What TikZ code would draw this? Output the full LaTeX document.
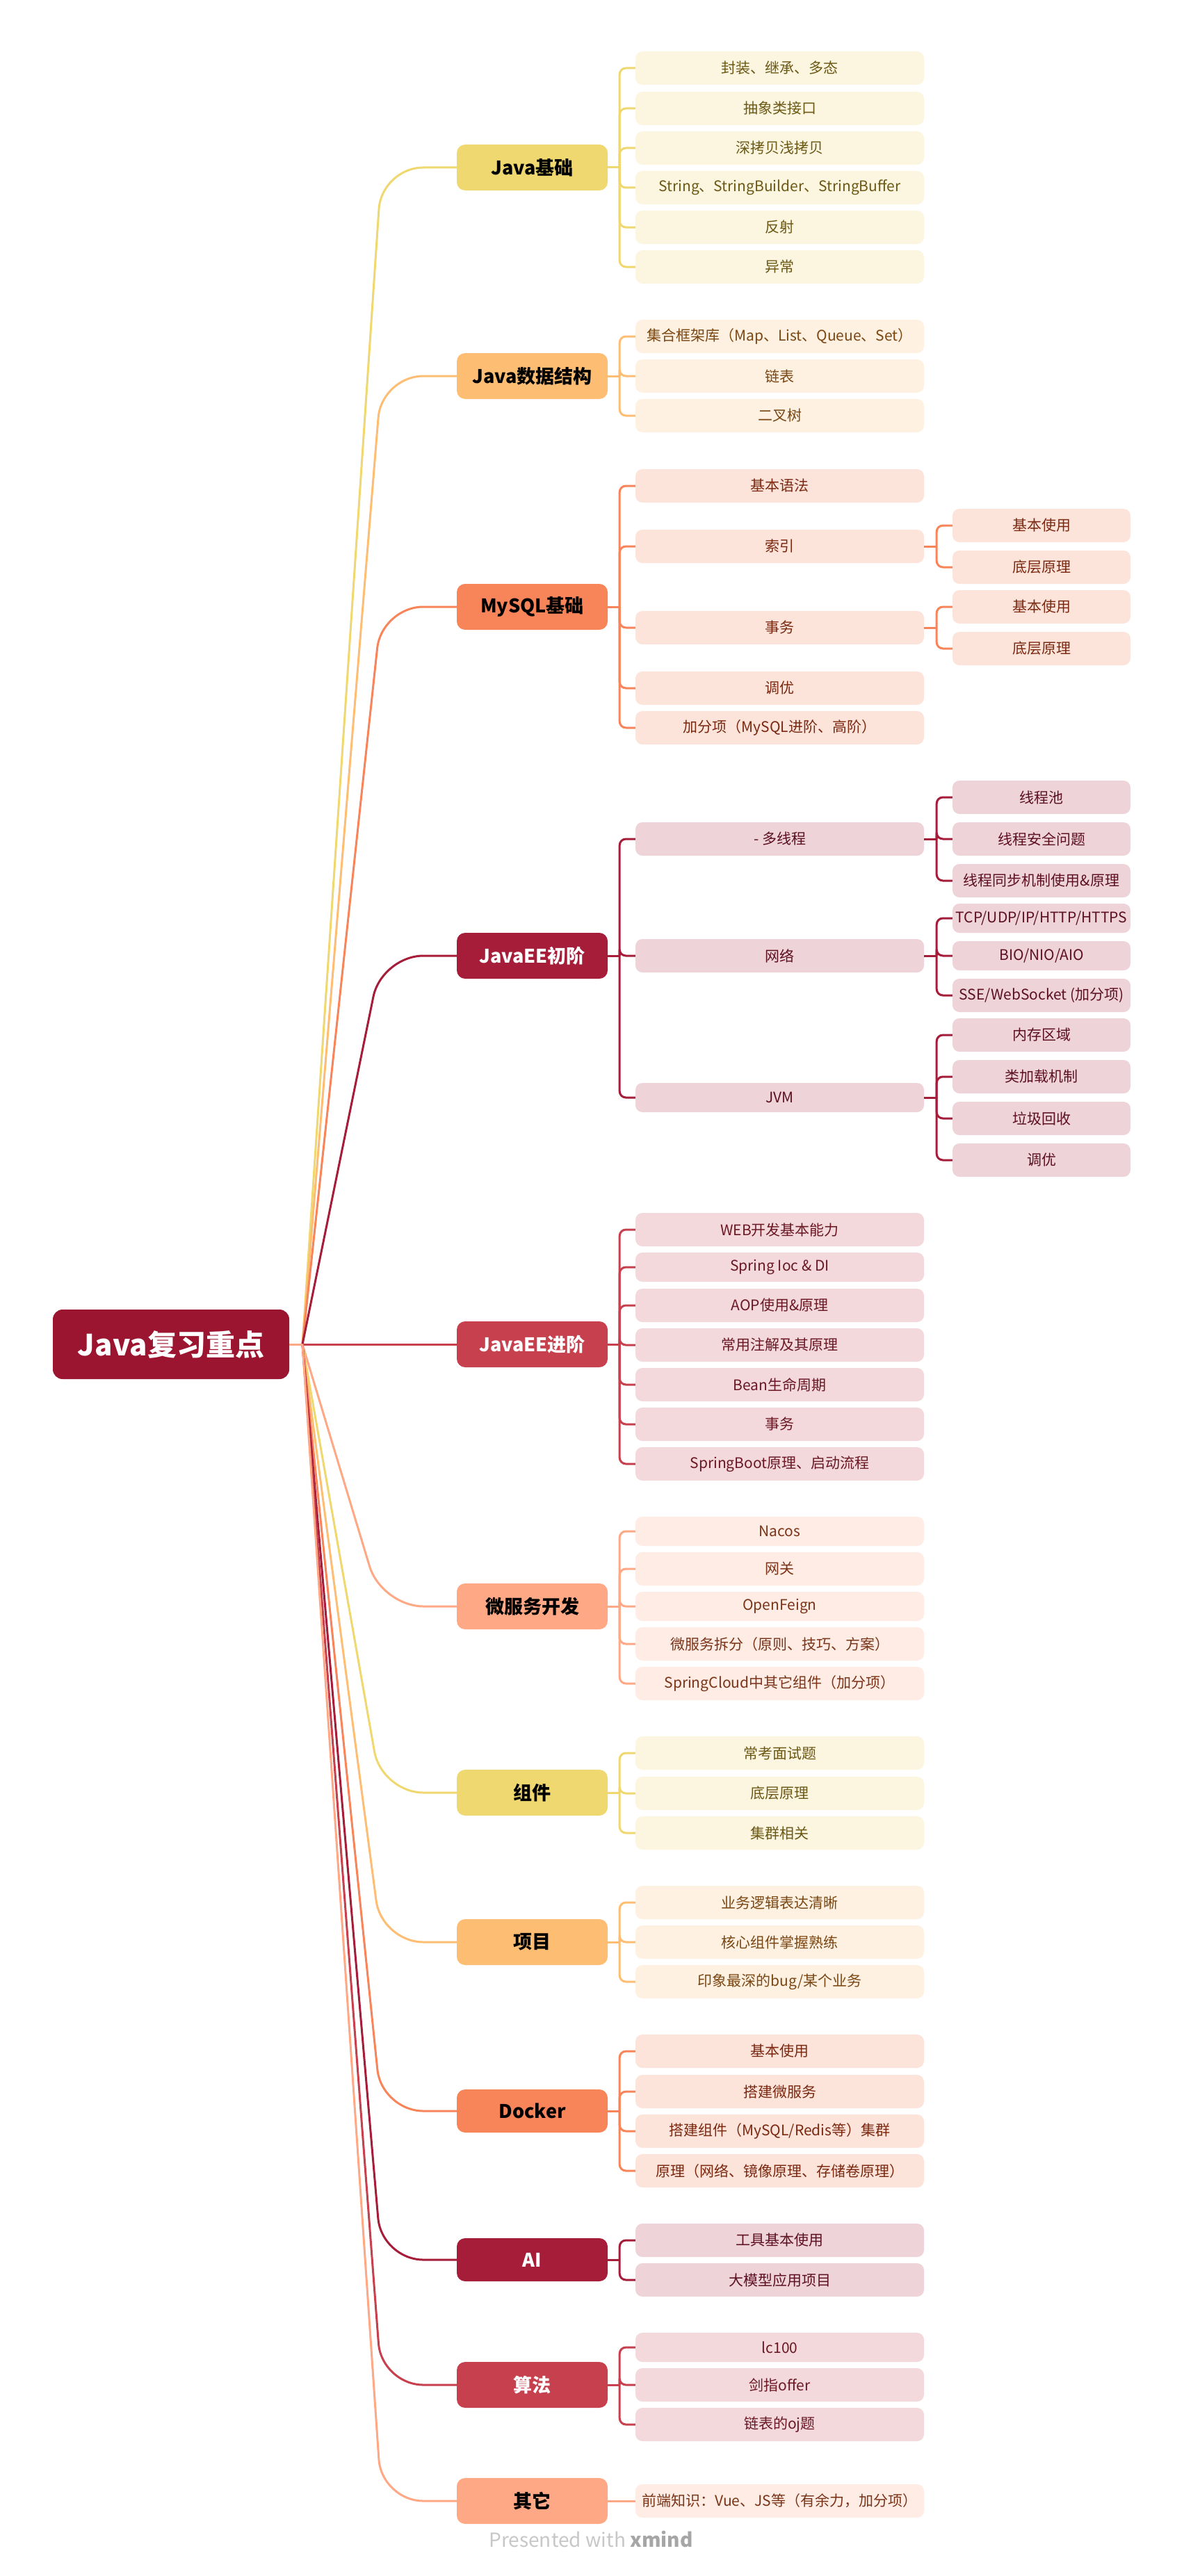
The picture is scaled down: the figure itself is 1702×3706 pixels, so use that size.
\documentclass[tikz,border=0pt]{standalone}
\usepackage{fontspec}
\setmainfont{Noto Sans CJK SC}
\definecolor{yM}{HTML}{F0D870}\definecolor{yC}{HTML}{FCF6E1}\definecolor{yT}{HTML}{6B5814}
\definecolor{oM}{HTML}{FDBE74}\definecolor{oC}{HTML}{FEF1E2}\definecolor{oT}{HTML}{7A4612}
\definecolor{cM}{HTML}{F8845A}\definecolor{cC}{HTML}{FDE4DB}\definecolor{cT}{HTML}{7A2810}
\definecolor{kM}{HTML}{A61D3A}\definecolor{kC}{HTML}{EED3D8}\definecolor{kT}{HTML}{5C1020}
\definecolor{rM}{HTML}{C6404E}\definecolor{rC}{HTML}{F3D9DC}\definecolor{rT}{HTML}{6A1824}
\definecolor{sM}{HTML}{FEA886}\definecolor{sC}{HTML}{FEECE5}\definecolor{sT}{HTML}{7A3418}
\definecolor{rootC}{HTML}{9B1430}
\tikzset{
  rootbox/.style={fill=rootC, text=white, rounded corners=14pt, minimum width=340pt, minimum height=100pt, inner sep=0pt, font=\fontsize{42}{48}\selectfont\bfseries},
  mainbox/.style={rounded corners=12pt, minimum width=217pt, minimum height=66pt, inner sep=0pt, font=\fontsize{27}{32}\selectfont\bfseries},
  subbox/.style={rounded corners=10pt, minimum width=415pt, minimum height=48pt, inner sep=0pt, font=\fontsize{21}{25}\selectfont},
  leafbox/.style={subbox, minimum width=256pt},
  latin/.style={minimum height=42pt},
  latinmain/.style={minimum height=62pt},
  conn/.style={line width=3pt},
  mainY/.style={mainbox, fill=yM, text=black}, subY/.style={fill=yC, text=yT},
  mainO/.style={mainbox, fill=oM, text=black}, subO/.style={fill=oC, text=oT},
  mainC/.style={mainbox, fill=cM, text=black}, subC/.style={fill=cC, text=cT},
  mainK/.style={mainbox, fill=kM, text=white}, subK/.style={fill=kC, text=kT},
  mainR/.style={mainbox, fill=rM, text=white}, subR/.style={fill=rC, text=rT},
  mainS/.style={mainbox, fill=sM, text=black}, subS/.style={fill=sC, text=sT},
  elbow/.style={conn, rounded corners=9pt},
  mainline/.style={conn, rounded corners=60pt},
}
\begin{document}
\begin{tikzpicture}[x=1pt, y=-1pt]
\fill[white] (0,0) rectangle (1702,3706);
\useasboundingbox (0,0) rectangle (1702,3706);

% ---------- nodes ----------
\node[rootbox] (root) at (246,1934) {Java复习重点};
\coordinate (J) at (435,1934);
\coordinate (bx) at (549,0);

% Branch 1
\node[mainY] (m1) at (765.5,241) {Java基础};
\node[subbox, subY] (a1) at (1121.5,98) {封装、继承、多态};
\node[subbox, subY] (a2) at (1121.5,156) {抽象类接口};
\node[subbox, subY] (a3) at (1121.5,213) {深拷贝浅拷贝};
\node[subbox, subY] (a4) at (1121.5,270) {String、StringBuilder、StringBuffer};
\node[subbox, subY] (a5) at (1121.5,327) {反射};
\node[subbox, subY] (a6) at (1121.5,384) {异常};

% Branch 2
\node[mainO] (m2) at (765.5,541) {Java数据结构};
\node[subbox, subO] (b1) at (1121.5,484) {集合框架库（Map、List、Queue、Set）};
\node[subbox, subO] (b2) at (1121.5,541) {链表};
\node[subbox, subO] (b3) at (1121.5,598) {二叉树};

% Branch 3
\node[mainC] (m3) at (765.5,873) {MySQL基础};
\node[subbox, subC] (c1) at (1121.5,699) {基本语法};
\node[subbox, subC] (c2) at (1121.5,786) {索引};
\node[subbox, subC] (c3) at (1121.5,903) {事务};
\node[subbox, subC] (c4) at (1121.5,990) {调优};
\node[subbox, subC] (c5) at (1121.5,1047) {加分项（MySQL进阶、高阶）};
\node[leafbox, subC] (c2a) at (1498,756) {基本使用};
\node[leafbox, subC] (c2b) at (1498,816) {底层原理};
\node[leafbox, subC] (c3a) at (1498,873) {基本使用};
\node[leafbox, subC] (c3b) at (1498,933) {底层原理};

% Branch 4
\node[mainK] (m4) at (765.5,1375) {JavaEE初阶};
\node[subbox, subK] (d1) at (1121.5,1207) {- 多线程};
\node[subbox, subK] (d2) at (1121.5,1375) {网络};
\node[subbox, subK, latin] (d3) at (1121.5,1579) {JVM};
\node[leafbox, subK] (d1a) at (1498,1147) {线程池};
\node[leafbox, subK] (d1b) at (1498,1207) {线程安全问题};
\node[leafbox, subK] (d1c) at (1498,1267) {线程同步机制使用\&原理};
\node[leafbox, subK, latin] (d2a) at (1498,1321) {TCP/UDP/IP/HTTP/HTTPS};
\node[leafbox, subK, latin] (d2b) at (1498,1375) {BIO/NIO/AIO};
\node[leafbox, subK] (d2c) at (1498,1432) {SSE/WebSocket (加分项)};
\node[leafbox, subK] (d3a) at (1498,1489) {内存区域};
\node[leafbox, subK] (d3b) at (1498,1549) {类加载机制};
\node[leafbox, subK] (d3c) at (1498,1609) {垃圾回收};
\node[leafbox, subK] (d3d) at (1498,1669) {调优};

% Branch 5
\node[mainR] (m5) at (765.5,1934) {JavaEE进阶};
\node[subbox, subR] (e1) at (1121.5,1769) {WEB开发基本能力};
\node[subbox, subR, latin] (e2) at (1121.5,1823) {Spring Ioc \& DI};
\node[subbox, subR] (e3) at (1121.5,1878) {AOP使用\&原理};
\node[subbox, subR] (e4) at (1121.5,1935) {常用注解及其原理};
\node[subbox, subR] (e5) at (1121.5,1992) {Bean生命周期};
\node[subbox, subR] (e6) at (1121.5,2049) {事务};
\node[subbox, subR] (e7) at (1121.5,2106) {SpringBoot原理、启动流程};

% Branch 6
\node[mainS] (m6) at (765.5,2311) {微服务开发};
\node[subbox, subS, latin] (f1) at (1121.5,2203) {Nacos};
\node[subbox, subS] (f2) at (1121.5,2257) {网关};
\node[subbox, subS, latin] (f3) at (1121.5,2311) {OpenFeign};
\node[subbox, subS] (f4) at (1121.5,2365) {微服务拆分（原则、技巧、方案）};
\node[subbox, subS] (f5) at (1121.5,2422) {SpringCloud中其它组件（加分项）};

% Branch 7
\node[mainY] (m7) at (765.5,2579) {组件};
\node[subbox, subY] (g1) at (1121.5,2522) {常考面试题};
\node[subbox, subY] (g2) at (1121.5,2580) {底层原理};
\node[subbox, subY] (g3) at (1121.5,2637) {集群相关};

% Branch 8
\node[mainO] (m8) at (765.5,2794) {项目};
\node[subbox, subO] (h1) at (1121.5,2737) {业务逻辑表达清晰};
\node[subbox, subO] (h2) at (1121.5,2794) {核心组件掌握熟练};
\node[subbox, subO] (h3) at (1121.5,2851) {印象最深的bug/某个业务};

% Branch 9
\node[mainC, latinmain] (m9) at (765.5,3037) {Docker};
\node[subbox, subC] (i1) at (1121.5,2951) {基本使用};
\node[subbox, subC] (i2) at (1121.5,3009) {搭建微服务};
\node[subbox, subC] (i3) at (1121.5,3066) {搭建组件（MySQL/Redis等）集群};
\node[subbox, subC] (i4) at (1121.5,3123) {原理（网络、镜像原理、存储卷原理）};

% Branch 10
\node[mainK, latinmain] (m10) at (765.5,3251) {AI};
\node[subbox, subK] (j1) at (1121.5,3223) {工具基本使用};
\node[subbox, subK] (j2) at (1121.5,3280) {大模型应用项目};

% Branch 11
\node[mainR] (m11) at (765.5,3431) {算法};
\node[subbox, subR, latin] (k1) at (1121.5,3377) {lc100};
\node[subbox, subR] (k2) at (1121.5,3431) {剑指offer};
\node[subbox, subR] (k3) at (1121.5,3488) {链表的oj题};

% Branch 12
\node[mainS] (m12) at (765.5,3598) {其它};
\node[subbox, subS] (l1) at (1121.5,3598) {前端知识：Vue、JS等（有余力，加分项）};

\node[font=\fontsize{28}{32}\selectfont, text=black!22] (credit) at (850,3653) {Presented with \textcolor{black!35}{\bfseries xmind}};

% ---------- connectors ----------
\draw[mainline, yM] (J) -- (bx |- m1.west) -- (m1.west);
\draw[mainline, oM] (J) -- (bx |- m2.west) -- (m2.west);
\draw[mainline, cM] (J) -- (bx |- m3.west) -- (m3.west);
\draw[mainline, kM] (J) -- (bx |- m4.west) -- (m4.west);
\draw[mainline, rM] (J) -- (m5.west);
\draw[mainline, sM] (J) -- (bx |- m6.west) -- (m6.west);
\draw[mainline, yM] (J) -- (bx |- m7.west) -- (m7.west);
\draw[mainline, oM] (J) -- (bx |- m8.west) -- (m8.west);
\draw[mainline, cM] (J) -- (bx |- m9.west) -- (m9.west);
\draw[mainline, kM] (J) -- (bx |- m10.west) -- (m10.west);
\draw[mainline, rM] (J) -- (bx |- m11.west) -- (m11.west);
\draw[mainline, sM] (J) -- (bx |- m12.west) -- (m12.west);
\draw[conn, sM] (root.east) -- (J);

% branch stubs
\draw[conn, yM] (m1.east) -- ++(17,0) coordinate (v1);
\foreach \c in {a1,a2,a3,a4,a5,a6} \draw[elbow, yM] (v1) |- (\c.west);
\draw[conn, oM] (m2.east) -- ++(17,0) coordinate (v2);
\foreach \c in {b1,b2,b3} \draw[elbow, oM] (v2) |- (\c.west);
\draw[conn, cM] (m3.east) -- ++(17,0) coordinate (v3);
\foreach \c in {c1,c2,c3,c4,c5} \draw[elbow, cM] (v3) |- (\c.west);
\draw[conn, cM] (c2.east) -- ++(18,0) coordinate (v3b);
\foreach \c in {c2a,c2b} \draw[elbow, cM] (v3b) |- (\c.west);
\draw[conn, cM] (c3.east) -- ++(18,0) coordinate (v3c);
\foreach \c in {c3a,c3b} \draw[elbow, cM] (v3c) |- (\c.west);
\draw[conn, kM] (m4.east) -- ++(17,0) coordinate (v4);
\foreach \c in {d1,d2,d3} \draw[elbow, kM] (v4) |- (\c.west);
\draw[conn, kM] (d1.east) -- ++(18,0) coordinate (v4a);
\foreach \c in {d1a,d1b,d1c} \draw[elbow, kM] (v4a) |- (\c.west);
\draw[conn, kM] (d2.east) -- ++(18,0) coordinate (v4b);
\foreach \c in {d2a,d2b,d2c} \draw[elbow, kM] (v4b) |- (\c.west);
\draw[conn, kM] (d3.east) -- ++(18,0) coordinate (v4c);
\foreach \c in {d3a,d3b,d3c,d3d} \draw[elbow, kM] (v4c) |- (\c.west);
\draw[conn, rM] (m5.east) -- ++(17,0) coordinate (v5);
\foreach \c in {e1,e2,e3,e4,e5,e6,e7} \draw[elbow, rM] (v5) |- (\c.west);
\draw[conn, sM] (m6.east) -- ++(17,0) coordinate (v6);
\foreach \c in {f1,f2,f3,f4,f5} \draw[elbow, sM] (v6) |- (\c.west);
\draw[conn, yM] (m7.east) -- ++(17,0) coordinate (v7);
\foreach \c in {g1,g2,g3} \draw[elbow, yM] (v7) |- (\c.west);
\draw[conn, oM] (m8.east) -- ++(17,0) coordinate (v8);
\foreach \c in {h1,h2,h3} \draw[elbow, oM] (v8) |- (\c.west);
\draw[conn, cM] (m9.east) -- ++(17,0) coordinate (v9);
\foreach \c in {i1,i2,i3,i4} \draw[elbow, cM] (v9) |- (\c.west);
\draw[conn, kM] (m10.east) -- ++(17,0) coordinate (v10);
\foreach \c in {j1,j2} \draw[elbow, kM] (v10) |- (\c.west);
\draw[conn, rM] (m11.east) -- ++(17,0) coordinate (v11);
\foreach \c in {k1,k2,k3} \draw[elbow, rM] (v11) |- (\c.west);
\draw[conn, sM] (m12.east) -- (l1.west);
\end{tikzpicture}
\end{document}
